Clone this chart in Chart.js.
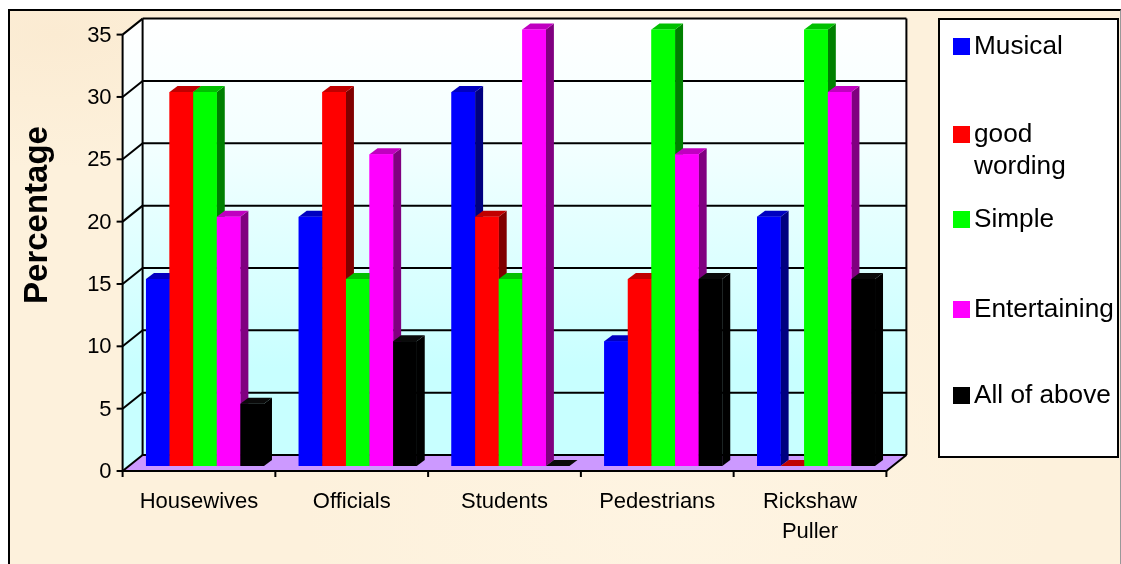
<!DOCTYPE html>
<html>
<head>
<meta charset="utf-8">
<script src="https://cdn.jsdelivr.net/npm/chart.js@4"></script>
<style>
  html, body { margin: 0; padding: 0; background: #fff; }
  body { width: 1121px; height: 564px; overflow: hidden; position: relative; font-family: "Liberation Sans", Arial, sans-serif; }
  #frame {
    position: absolute; left: 8px; top: 9px; width: 1113px; height: 555px; box-sizing: border-box;
    border-left: 2px solid #000; border-top: 2px solid #000; border-right: 1px solid #999;
    background:
      radial-gradient(ellipse at 4% 4%, #fbebd2 0, rgba(251,235,210,0) 18%),
      radial-gradient(ellipse at 60% 90%, #fef4e2 0, rgba(254,244,226,0) 40%),
      #fdf1dc;
  }
  canvas { position: absolute; left: 0; top: 0; }
  #legendBox {
    position: absolute; left: 938px; top: 18px; width: 181px; height: 440px; box-sizing: border-box;
    background: #fff; border: 2px solid #000;
  }
  .item { position: absolute; left: 34px; font-size: 26.2px; line-height: 32px; color: #000; width: 150px; }
  .swatch { position: absolute; left: -21px; top: 9px; width: 17px; height: 17px; }
</style>
</head>
<body>
<div id="frame"></div>
<canvas id="chart" width="1121" height="564"></canvas>
<div id="legendBox"></div>
<script>
// data
const categories = ["Housewives", "Officials", "Students", "Pedestrians", ["Rickshaw", "Puller"]];
const musical = [15, 20, 30, 10, 20];
const goodWording = [30, 30, 20, 15, 0];
const simple = [30, 15, 15, 35, 35];
const entertaining = [20, 25, 35, 25, 30];
const allOfAbove = [5, 10, 0, 15, 15];
const seriesNames = ["Musical", "good wording", "Simple", "Entertaining", "All of above"];
const seriesValues = [musical, goodWording, simple, entertaining, allOfAbove];

// front, top and side colours of each series
const frontColors = ["#0000ff", "#ff0000", "#00ff00", "#ff00ff", "#000000"];
const topColors = ["#0000c0", "#c00000", "#00c000", "#c000c0", "#0a0a0a"];
const sideColors = ["#000080", "#800000", "#008000", "#800080", "#000000"];

// legend rows, distance from the top of the box
const legendRows = [9, 97, 182, 272, 358];

// 3d offsets against the bars' scale
const frontDx = -6, frontDy = 5;
const backDx = 14, backDy = -11;
const barDx = 8, barDy = -6;

function poly(ctx, pts, fill) {
    ctx.beginPath();
    pts.forEach((p, i) => i ? ctx.lineTo(p[0], p[1]) : ctx.moveTo(p[0], p[1]));
    ctx.closePath();
    ctx.fillStyle = fill;
    ctx.fill();
}

function line(ctx, x1, y1, x2, y2) {
    ctx.beginPath();
    ctx.moveTo(x1, y1);
    ctx.lineTo(x2, y2);
    ctx.stroke();
}

// walls, floor and grid behind the bars
const box3d = {
    id: "box3d",
    beforeDatasetsDraw(chart) {
        const ctx = chart.ctx, y = chart.scales.y;
        const area = chart.chartArea;
        const fl = area.left + frontDx, fr = area.right + frontDx;
        const bl = area.left + backDx, br = area.right + backDx;
        const y0 = y.getPixelForValue(0), yMax = y.getPixelForValue(35);

        const wall = ctx.createLinearGradient(0, yMax + backDy, 0, y0 + backDy);
        wall.addColorStop(0, "#ffffff");
        wall.addColorStop(0.3, "#f2ffff");
        wall.addColorStop(0.8, "#c8ffff");
        wall.addColorStop(1, "#c8ffff");
        ctx.save();
        poly(ctx, [[bl, yMax + backDy], [br, yMax + backDy], [br, y0 + backDy], [bl, y0 + backDy]], wall);
        poly(ctx, [[fl, yMax + frontDy], [bl, yMax + backDy], [bl, y0 + backDy], [fl, y0 + frontDy]], wall);
        poly(ctx, [[fl, y0 + frontDy], [bl, y0 + backDy], [br, y0 + backDy], [fr, y0 + frontDy]], "#cc99ff");

        ctx.strokeStyle = "#000";
        ctx.lineWidth = 2;
        y.ticks.forEach(t => {
            const p = y.getPixelForValue(t.value);
            line(ctx, bl, p + backDy, br, p + backDy);
            line(ctx, fl, p + frontDy, bl, p + backDy);
            line(ctx, fl - 6, p + frontDy, fl, p + frontDy);
        });
        line(ctx, bl, yMax + backDy, bl, y0 + backDy);
        line(ctx, br, yMax + backDy, br, y0 + backDy);
        line(ctx, fl, yMax + frontDy, fl, y0 + frontDy);
        line(ctx, fl, y0 + frontDy, fr, y0 + frontDy);
        line(ctx, fr, y0 + frontDy, br, y0 + backDy);

        const step = (area.right - area.left) / categories.length;
        for (let i = 0; i <= categories.length; i++) {
            const px = area.left + frontDx + i * step;
            line(ctx, px, y0 + frontDy, px, y0 + frontDy + 6);
        }

        // axis title
        ctx.translate(38, 215);
        ctx.rotate(-Math.PI / 2);
        ctx.font = 'bold 33px "Liberation Sans", Arial, sans-serif';
        ctx.fillStyle = "#000";
        ctx.textAlign = "center";
        ctx.textBaseline = "middle";
        ctx.fillText("Percentage", 0, 0);
        ctx.restore();
    },
    // depth faces, series by series, so that a bar hides the side of its left neighbour
    afterDatasetsDraw(chart) {
        const ctx = chart.ctx;
        ctx.save();
        chart.data.datasets.forEach((ds, i) => {
            chart.getDatasetMeta(i).data.forEach(bar => {
                const l = bar.x - bar.width / 2, r = bar.x + bar.width / 2;
                poly(ctx, [[r, bar.y], [r + barDx, bar.y + barDy], [r + barDx, bar.base + barDy], [r, bar.base]], sideColors[i]);
                poly(ctx, [[l, bar.y], [l + barDx, bar.y + barDy], [r + barDx, bar.y + barDy], [r, bar.y]], topColors[i]);
                bar.draw(ctx);
            });
        });
        ctx.restore();
    }
};

new Chart(document.getElementById("chart"), {
    type: "bar",
    data: {
        labels: categories,
        datasets: seriesNames.map((name, i) => ({
            label: name,
            data: seriesValues[i],
            backgroundColor: frontColors[i],
            borderWidth: 0,
            categoryPercentage: 0.7725,
            barPercentage: 1
        }))
    },
    options: {
        responsive: false,
        animation: false,
        layout: { padding: { top: 29.6, right: 228.6, bottom: 0, left: 0 } },
        plugins: { legend: { display: false }, tooltip: { enabled: false } },
        scales: {
            x: {
                grid: { display: false },
                border: { display: false },
                afterFit(s) { s.height = 98; s.paddingLeft = 0; s.paddingRight = 0; },
                ticks: {
                    color: "#000",
                    font: { family: '"Liberation Sans", Arial, sans-serif', size: 22, lineHeight: 1.364 },
                    padding: 13,
                    labelOffset: -6,
                    maxRotation: 0,
                    autoSkip: false
                }
            },
            y: {
                min: 0,
                max: 35,
                grid: { display: false },
                border: { display: false },
                afterFit(s) { s.width = 128.6; s.paddingTop = 0; s.paddingBottom = 0; },
                ticks: {
                    stepSize: 5,
                    color: "#000",
                    font: { family: '"Liberation Sans", Arial, sans-serif', size: 22 },
                    padding: 9,
                    labelOffset: 6
                }
            }
        }
    },
    plugins: [box3d]
});

// legend
const legendBox = document.getElementById("legendBox");
seriesNames.forEach((name, i) => {
    const row = document.createElement("div");
    row.className = "item";
    row.style.top = legendRows[i] + "px";
    const sw = document.createElement("span");
    sw.className = "swatch";
    sw.style.background = frontColors[i];
    row.appendChild(sw);
    row.appendChild(document.createTextNode(name));
    if (name === "good wording") row.style.width = "110px";
    legendBox.appendChild(row);
});
</script>
</body>
</html>
